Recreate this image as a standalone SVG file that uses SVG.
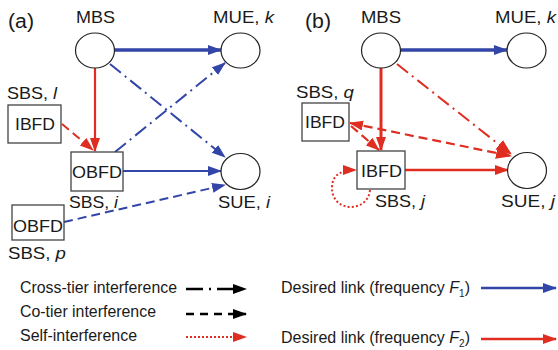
<svg xmlns="http://www.w3.org/2000/svg" width="558" height="350" viewBox="0 0 558 350">
<defs>
<marker id="ab" markerUnits="userSpaceOnUse" markerWidth="15" markerHeight="11" refX="13" refY="5" orient="auto-start-reverse"><path d="M0,0 L14,5 L0,10 z" fill="#3346a8"/></marker>
<marker id="ar" markerUnits="userSpaceOnUse" markerWidth="15" markerHeight="11" refX="13" refY="5" orient="auto-start-reverse"><path d="M0,0 L14,5 L0,10 z" fill="#e02d22"/></marker>
<marker id="arL" markerUnits="userSpaceOnUse" markerWidth="17" markerHeight="13" refX="15" refY="6" orient="auto-start-reverse"><path d="M0,0 L16,6 L0,12 z" fill="#e02d22"/></marker>
<marker id="ak" markerUnits="userSpaceOnUse" markerWidth="15" markerHeight="11" refX="13" refY="5" orient="auto-start-reverse"><path d="M0,0 L14,5 L0,10 z" fill="#000"/></marker>
</defs>
<style>
text{font-family:"Liberation Sans",Arial,sans-serif;fill:#1a1a1a}
.lbl{font-size:17px}
.lg{font-size:16px}
.pn{font-size:20px}
.it{font-style:italic}
.node{fill:#fff;stroke:#222;stroke-width:1.2}
.box{fill:#fff;stroke:#444;stroke-width:1.3}
.c{fill:none}
.blue{stroke:#3346a8}
.red{stroke:#e02d22}
.blk{stroke:#000}
.dd{stroke-dasharray:14 5 2 5}
.ds{stroke-dasharray:9 5}
.dt{stroke-dasharray:2 2.2}
</style>

<text class="pn" x="8" y="28" textLength="26" lengthAdjust="spacingAndGlyphs">(a)</text>
<text class="pn" x="305" y="28" textLength="26" lengthAdjust="spacingAndGlyphs">(b)</text>

<g id="connectors">
<!-- panel a -->
<path class="c blue" stroke-width="3.5" d="M114,50 L221,50" marker-end="url(#ab)"/>
<path class="c red" stroke-width="2.2" d="M95,68 L95,151" marker-end="url(#ar)"/>
<path class="c red ds" stroke-width="2" d="M62,124 L93,150" marker-end="url(#ar)"/>
<path class="c blue dd" stroke-width="2" d="M110,64 L225,157" marker-end="url(#ab)"/>
<path class="c blue dd" stroke-width="2" d="M115,152 L225,63" marker-end="url(#ab)"/>
<path class="c blue" stroke-width="2" d="M123,171 L221,171" marker-end="url(#ab)"/>
<path class="c blue ds" stroke-width="2" d="M64,222 L225,185" marker-end="url(#ab)"/>
<!-- panel b -->
<path class="c blue" stroke-width="3.5" d="M401,50 L507,50" marker-end="url(#ab)"/>
<path class="c red" stroke-width="3" d="M381,68 L381,150" marker-end="url(#ar)"/>
<path class="c red ds" stroke-width="2.2" d="M351,126 L379,150" marker-end="url(#ar)"/>
<path class="c red ds" stroke-width="2.2" d="M350,123 L511,156" marker-start="url(#ar)" marker-end="url(#arL)"/>
<path class="c red dd" stroke-width="2" d="M397,64 L511,154" marker-end="url(#arL)"/>
<path class="c red" stroke-width="2.5" d="M405,170 L508,170" marker-end="url(#ar)"/>
<path class="c red dt" stroke-width="2" d="M370,190 C368,213 332,213 332,188 C332,174 342,170 356,170" marker-end="url(#ar)"/>
</g>

<g id="mbs-a"><ellipse class="node" cx="95" cy="50.5" rx="19.5" ry="17.5"/><text class="lbl" x="76" y="23" textLength="39" lengthAdjust="spacingAndGlyphs">MBS</text></g>
<g id="mue-a"><ellipse class="node" cx="240.5" cy="50.5" rx="19.5" ry="17.5"/><text class="lbl" x="213" y="23" textLength="61" lengthAdjust="spacingAndGlyphs">MUE, <tspan class="it">k</tspan></text></g>
<g id="sbs-l"><rect class="box" x="8" y="105" width="53" height="38"/><text class="lbl" x="15" y="130" textLength="40" lengthAdjust="spacingAndGlyphs">IBFD</text><text class="lbl" x="7" y="99" textLength="50" lengthAdjust="spacingAndGlyphs">SBS, <tspan class="it">l</tspan></text></g>
<g id="sbs-i"><rect class="box" x="71" y="152" width="52" height="39"/><text class="lbl" x="72" y="178" textLength="50" lengthAdjust="spacingAndGlyphs">OBFD</text><text class="lbl" x="69" y="208" textLength="49" lengthAdjust="spacingAndGlyphs">SBS, <tspan class="it">i</tspan></text></g>
<g id="sue-i"><ellipse class="node" cx="240.5" cy="171.5" rx="19.5" ry="18"/><text class="lbl" x="218" y="208" textLength="52" lengthAdjust="spacingAndGlyphs">SUE, <tspan class="it">i</tspan></text></g>
<g id="sbs-p"><rect class="box" x="12" y="205" width="52" height="35"/><text class="lbl" x="13" y="232" textLength="50" lengthAdjust="spacingAndGlyphs">OBFD</text><text class="lbl" x="8" y="259" textLength="58" lengthAdjust="spacingAndGlyphs">SBS, <tspan class="it">p</tspan></text></g>

<g id="mbs-b"><ellipse class="node" cx="381" cy="50.5" rx="19.5" ry="17.5"/><text class="lbl" x="361" y="23" textLength="40" lengthAdjust="spacingAndGlyphs">MBS</text></g>
<g id="mue-b"><ellipse class="node" cx="526.5" cy="50.5" rx="19.5" ry="17.5"/><text class="lbl" x="495" y="23" textLength="61" lengthAdjust="spacingAndGlyphs">MUE, <tspan class="it">k</tspan></text></g>
<g id="sbs-q"><rect class="box" x="302" y="103" width="47" height="38"/><text class="lbl" x="305" y="128" textLength="40" lengthAdjust="spacingAndGlyphs">IBFD</text><text class="lbl" x="296" y="98" textLength="58" lengthAdjust="spacingAndGlyphs">SBS, <tspan class="it">q</tspan></text></g>
<g id="sbs-j"><rect class="box" x="357" y="151" width="48" height="38"/><text class="lbl" x="361" y="177" textLength="41" lengthAdjust="spacingAndGlyphs">IBFD</text><text class="lbl" x="375" y="207" textLength="50" lengthAdjust="spacingAndGlyphs">SBS, <tspan class="it">j</tspan></text></g>
<g id="sue-j"><ellipse class="node" cx="527" cy="170.5" rx="19.5" ry="18"/><text class="lbl" x="501" y="207" textLength="54" lengthAdjust="spacingAndGlyphs">SUE, <tspan class="it">j</tspan></text></g>

<g id="legend">
<text class="lg" x="20" y="293" textLength="157" lengthAdjust="spacingAndGlyphs">Cross-tier interference</text>
<path class="c blk" stroke-width="2.5" stroke-dasharray="17 6 2 6" d="M186,289 L246,289" marker-end="url(#ak)"/>
<text class="lg" x="20" y="317" textLength="136" lengthAdjust="spacingAndGlyphs">Co-tier interference</text>
<path class="c blk" stroke-width="2.5" stroke-dasharray="8 6" d="M186,314 L246,314" marker-end="url(#ak)"/>
<text class="lg" x="20" y="341" textLength="117" lengthAdjust="spacingAndGlyphs">Self-interference</text>
<path class="c red" stroke-width="2" stroke-dasharray="2 2" d="M186,337 L246,337" marker-end="url(#ar)"/>
<text class="lg" x="281" y="293" textLength="189" lengthAdjust="spacingAndGlyphs">Desired link (frequency <tspan class="it">F</tspan><tspan font-size="10" dy="4">1</tspan><tspan dy="-4">)</tspan></text>
<path class="c blue" stroke-width="2.5" d="M481,288 L556,288" marker-end="url(#ab)"/>
<text class="lg" x="281" y="343" textLength="189" lengthAdjust="spacingAndGlyphs">Desired link (frequency <tspan class="it">F</tspan><tspan font-size="10" dy="4">2</tspan><tspan dy="-4">)</tspan></text>
<path class="c red" stroke-width="2.5" d="M481,339 L556,339" marker-end="url(#ar)"/>
</g>
</svg>
